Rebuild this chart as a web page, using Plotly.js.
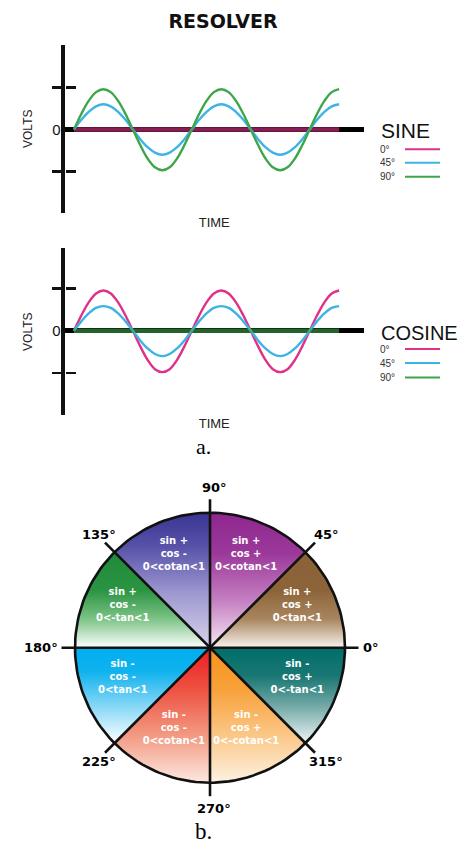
<!DOCTYPE html>
<html><head><meta charset="utf-8">
<script src="https://cdn.plot.ly/plotly-3.0.1.min.js"></script>
<style>html,body{margin:0;padding:0;background:#fff;}#chart{width:469px;height:846px;}</style>
</head><body><div id="chart"></div>
<script>
// ---------------- DATA ----------------
const phaseDeg = [0,22.5,45,67.5,90,112.5,135,157.5,180,202.5,225,247.5,270,292.5,315,337.5,
                  360,382.5,405,427.5,450,472.5,495,517.5,540,562.5,585,607.5,630,652.5,675,697.5,
                  720,742.5,765,787.5,810];
const rotorNames = ['0°','45°','90°'];
// SINE winding output
const sine0  = [0,0,0,0,0,0,0,0,0,0,0,0,0,0,0,0, 0,0,0,0,0,0,0,0,0,0,0,0,0,0,0,0, 0,0,0,0,0];
const sine45 = [0,0.23,0.42,0.55,0.6,0.55,0.42,0.23,0,-0.23,-0.42,-0.55,-0.6,-0.55,-0.42,-0.23,
                0,0.23,0.42,0.55,0.6,0.55,0.42,0.23,0,-0.23,-0.42,-0.55,-0.6,-0.55,-0.42,-0.23,
                0,0.23,0.42,0.55,0.6];
const sine90 = [0,0.37,0.68,0.89,0.96,0.89,0.68,0.37,0,-0.37,-0.69,-0.9,-0.97,-0.9,-0.69,-0.37,
                0,0.37,0.68,0.89,0.96,0.89,0.68,0.37,0,-0.37,-0.69,-0.9,-0.97,-0.9,-0.69,-0.37,
                0,0.37,0.68,0.89,0.96];
// COSINE winding output
const cos0   = [0,0.36,0.67,0.88,0.95,0.88,0.67,0.36,0,-0.37,-0.69,-0.91,-0.98,-0.91,-0.69,-0.37,
                0,0.36,0.67,0.88,0.95,0.88,0.67,0.36,0,-0.37,-0.69,-0.91,-0.98,-0.91,-0.69,-0.37,
                0,0.36,0.67,0.88,0.95];
const cos45  = [0,0.22,0.41,0.54,0.58,0.54,0.41,0.22,0,-0.23,-0.42,-0.55,-0.6,-0.55,-0.42,-0.23,
                0,0.22,0.41,0.54,0.58,0.54,0.41,0.22,0,-0.23,-0.42,-0.55,-0.6,-0.55,-0.42,-0.23,
                0,0.22,0.41,0.54,0.58];
const cos90  = [0,0,0,0,0,0,0,0,0,0,0,0,0,0,0,0, 0,0,0,0,0,0,0,0,0,0,0,0,0,0,0,0, 0,0,0,0,0];
const voltTicks = [-1, 1];
const zeroTick = [0];
const zeroTickText = ['0'];

// Quadrant wheel
const sectorFrom = [0,45,90,135,180,225,270,315];
const sectorTo   = [45,90,135,180,225,270,315,360];
const sinSign    = ['+','+','+','+','-','-','-','-'];
const cosSign    = ['+','+','-','-','-','-','+','+'];
const ratioText  = ['0<tan<1','0<cotan<1','0<cotan<1','0<-tan<1','0<tan<1','0<cotan<1','0<-cotan<1','0<-tan<1'];
const boundaryAngles = [0,45,90,135,180,225,270,315];
const boundaryLabels = ['0°','45°','90°','135°','180°','225°','270°','315°'];

// ---------------- STYLE ----------------
const W = 469, H = 846;
const px = v => v / W, py = v => 1 - v / H;
const rotorColors = ['#e0318a', '#3db4e4', '#3ca649'];
const sectorScales = [
  [[0,'#f8f3ee'],[0.3,'#a8855e'],[0.6,'#8d6439'],[1,'#8a6238']],
  [[0,'#f6e9f5'],[0.35,'#c47fc1'],[0.7,'#9b389a'],[1,'#8e278e']],
  [[0,'#d9d3ec'],[0.4,'#9e99d0'],[0.75,'#5752a8'],[1,'#393592']],
  [[0,'#ffffff'],[0.3,'#7dc387'],[0.6,'#2b9442'],[1,'#1f8a3b']],
  [[0,'#ffffff'],[0.45,'#72d1f5'],[0.75,'#10b2ee'],[1,'#00aeef']],
  [[0,'#fde8e0'],[0.35,'#f29a82'],[0.7,'#ee5040'],[1,'#ed1c24']],
  [[0,'#fef2e2'],[0.35,'#fbc787'],[0.7,'#f8a039'],[1,'#f7941d']],
  [[0,'#eef5f5'],[0.4,'#6fa7a5'],[0.7,'#1a7773'],[1,'#006e69']]
];
const lineCol = '#111';
const xd = [px(64.5), px(364)];

function panelAxes(yTop, yZero, yBot, unit) {
  return {
    domain: [py(yBot), py(yTop)],
    range: [-(yBot - yZero) / unit, (yZero - yTop) / unit]
  };
}
const topP = panelAxes(45, 129.5, 212.5, 42);
const botP = panelAxes(248.3, 330.7, 415, 42.3);

const traces = [];
function addWaves(series, xa, ya) {
  series.forEach((vals, i) => {
    const flat = vals.every(v => v === 0);
    traces.push({
      type: 'scatter', mode: 'lines', x: phaseDeg, y: vals, xaxis: xa, yaxis: ya,
      name: rotorNames[i], showlegend: false, hoverinfo: 'skip',
      line: {color: rotorColors[i], width: flat ? 4.5 : 2.4, shape: 'spline', smoothing: 1},
      opacity: flat ? 0.6 : 1
    });
  });
}
addWaves([sine0, sine45, sine90], 'x', 'y');
addWaves([cos0, cos45, cos90], 'x2', 'y2');
// empty anchors for overlay tick axes
['y3','y4','y5','y6'].forEach((ya, k) => traces.push({type:'scatter', x:[], y:[], xaxis: k < 2 ? 'x' : 'x2', yaxis: ya, showlegend:false, hoverinfo:'skip'}));

// wheel sectors
const rad = d => d * Math.PI / 180;
sectorFrom.forEach((a0, i) => {
  const a1 = sectorTo[i];
  const xs = [0], ys = [0];
  for (let k = 0; k <= 40; k++) {
    const a = rad(a0 + (a1 - a0) * k / 40);
    xs.push(Math.cos(a)); ys.push(Math.sin(a));
  }
  xs.push(0); ys.push(0);
  traces.push({
    type: 'scatter', mode: 'none', x: xs, y: ys, xaxis: 'x3', yaxis: 'y7',
    fill: 'toself', fillgradient: {type: 'vertical', colorscale: sectorScales[i], start: Math.min(...ys), stop: Math.max(...ys)},
    hoverinfo: 'skip', showlegend: false
  });
});
// circle
const cx = [], cy = [];
for (let k = 0; k <= 180; k++) { cx.push(Math.cos(rad(k * 2))); cy.push(Math.sin(rad(k * 2))); }
traces.push({type:'scatter', mode:'lines', x: cx, y: cy, xaxis:'x3', yaxis:'y7', line:{color: lineCol, width: 2.6}, hoverinfo:'skip', showlegend:false});
// boundary lines (extend past the rim)
const bx = [], by = [];
boundaryAngles.forEach(a => { bx.push(0, 1.1 * Math.cos(rad(a)), null); by.push(0, 1.1 * Math.sin(rad(a)), null); });
traces.push({type:'scatter', mode:'lines', x: bx, y: by, xaxis:'x3', yaxis:'y7', line:{color: lineCol, width: 2.6}, hoverinfo:'skip', showlegend:false});
// sector text
const tx = [], ty = [], tt = [];
sectorFrom.forEach((a0, i) => {
  const m = rad((a0 + sectorTo[i]) / 2);
  tx.push(0.7 * Math.cos(m)); ty.push(0.7 * Math.sin(m) + 0.045);
  tt.push('<b>sin ' + sinSign[i] + '<br>cos ' + cosSign[i] + '<br>' + ratioText[i].replace(/</g, '&lt;') + '</b>');
});
traces.push({type:'scatter', mode:'text', x: tx, y: ty, text: tt, textposition:'middle center', xaxis:'x3', yaxis:'y7',
  textfont:{family:'DejaVu Sans', size:10, color:'#ffffff'}, hoverinfo:'skip', showlegend:false});

// ---------------- LAYOUT ----------------
const baseX = {showgrid:false, zeroline:false, showline:false, ticks:'', showticklabels:false, fixedrange:true};
function mainY(p, anchor) {
  return {domain: p.domain, range: p.range, anchor: anchor, showgrid:false, showline:true, linewidth:3.5, linecolor: lineCol,
    zeroline:true, zerolinewidth:4.5, zerolinecolor:'#000', tickmode:'array', tickvals: voltTicks, ticks:'outside',
    ticklen:9, tickwidth:2.5, tickcolor: lineCol, showticklabels:false,
    title:{text:'VOLTS', font:{size:12, color:'#222'}, standoff: 18}};
}
function rightTicks(p, over) {
  return {overlaying: over, anchor:'free', position: xd[0], side:'right', range: p.range, tickmode:'array', tickvals: voltTicks,
    ticks:'outside', ticklen:10, tickwidth:2.5, tickcolor: lineCol, showticklabels:false, showgrid:false, zeroline:false, showline:false};
}
function zeroLabel(p, over) {
  return {overlaying: over, anchor:'free', position: xd[0], side:'left', range: p.range, tickmode:'array', tickvals: zeroTick,
    ticktext: zeroTickText, ticks:'', showticklabels:true, tickfont:{size:15, color:'#111'}, ticklabelstandoff: 4,
    showgrid:false, zeroline:false, showline:false};
}
const timeRange = [-28.8, 886];
const pieX = [-210/135, 259/135];
const pieDom = [0, 0.44];
const pieY = [(647.7 - 846) / 135, (647.7 - H * (1 - pieDom[1])) / 135];

const annotations = [];
const shapes = [];
function legendBlock(head, yHead, size, yRows) {
  annotations.push({xref:'paper', yref:'paper', x: px(379), y: py(yHead), xanchor:'left', yanchor:'middle', showarrow:false,
    text: head, font:{size: size, color:'#111'}});
  rotorNames.forEach((n, i) => {
    annotations.push({xref:'paper', yref:'paper', x: px(378), y: py(yRows[i]), xanchor:'left', yanchor:'middle', showarrow:false,
      text: n, font:{size:10, color:'#333'}});
    shapes.push({type:'line', xref:'paper', yref:'paper', x0: px(405), x1: px(440), y0: py(yRows[i]), y1: py(yRows[i]),
      line:{color: rotorColors[i], width: 2}});
  });
}
legendBlock('SINE', 130, 21, [149.3, 162.7, 176.7]);
legendBlock('COSINE', 333, 20, [349, 363, 377.5]);

annotations.push({xref:'paper', yref:'paper', x: px(203), y: py(446.5), xanchor:'center', yanchor:'middle', showarrow:false,
  text:'a.', font:{family:'Liberation Serif, Times New Roman, serif', size:22, color:'#000'}});
annotations.push({xref:'paper', yref:'paper', x: px(203), y: py(845.5), xanchor:'center', yanchor:'bottom', showarrow:false,
  text:'b.', font:{family:'Liberation Serif, Times New Roman, serif', size:23, color:'#000'}});

boundaryAngles.forEach((a, i) => {
  const c = Math.cos(rad(a)), s = Math.sin(rad(a));
  let ann = {xref:'x3', yref:'y7', showarrow:false, text: '<b>' + boundaryLabels[i] + '</b>', font:{family:'DejaVu Sans', size:13, color:'#000'}};
  if (a === 0)        Object.assign(ann, {x: 1.12, y: 0, xanchor:'left', yanchor:'middle'});
  else if (a === 180) Object.assign(ann, {x: -1.11, y: 0, xanchor:'right', yanchor:'middle'});
  else if (a === 90)  Object.assign(ann, {x: 0.03, y: 1.12, xanchor:'center', yanchor:'bottom'});
  else if (a === 270) Object.assign(ann, {x: 0.03, y: -1.12, xanchor:'center', yanchor:'top'});
  else Object.assign(ann, {x: 1.19 * c + 0.02, y: 1.19 * s, xanchor:'center', yanchor:'middle'});
  annotations.push(ann);
});

const layout = {
  width: W, height: H, margin:{l:0, r:0, t:0, b:0}, paper_bgcolor:'#ffffff', plot_bgcolor:'rgba(0,0,0,0)',
  showlegend:false, font:{family:'Liberation Sans, Arial, sans-serif', color:'#111'},
  title:{text:'<b>RESOLVER</b>', x: px(223), xanchor:'center', y: py(21), yanchor:'middle',
    font:{family:'DejaVu Sans', size:19, color:'#111'}},
  xaxis: Object.assign({}, baseX, {domain: xd, range: timeRange, anchor:'y', title:{text:'TIME', font:{size:13, color:'#222'}, standoff: 5}}),
  yaxis: mainY(topP, 'x'),
  xaxis2: Object.assign({}, baseX, {domain: xd, range: timeRange, anchor:'y2', title:{text:'TIME', font:{size:13, color:'#222'}, standoff: 3}}),
  yaxis2: mainY(botP, 'x2'),
  yaxis3: rightTicks(topP, 'y'),
  yaxis4: zeroLabel(topP, 'y'),
  yaxis5: rightTicks(botP, 'y2'),
  yaxis6: zeroLabel(botP, 'y2'),
  xaxis3: {domain:[0,1], range: pieX, anchor:'y7', visible:false, fixedrange:true},
  yaxis7: {domain: pieDom, range: pieY, anchor:'x3', visible:false, fixedrange:true},
  annotations: annotations, shapes: shapes
};

Plotly.newPlot('chart', traces, layout, {staticPlot:true, displayModeBar:false});
</script></body></html>
